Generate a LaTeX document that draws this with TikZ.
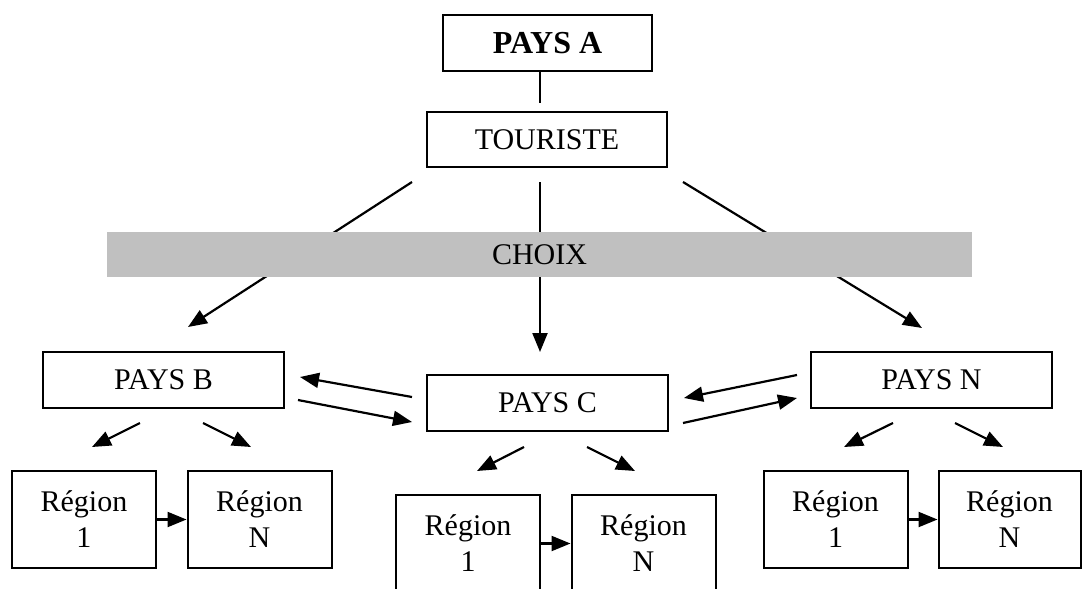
\documentclass[tikz,border=0pt]{standalone}
\usepackage{fontspec}
\setmainfont{Liberation Serif}
\usetikzlibrary{arrows.meta}

\begin{document}
\begin{tikzpicture}[x=0.5pt,y=-0.5pt,
        box/.style={draw=black,line width=1pt,inner sep=0pt,align=center,
            font=\fontsize{15}{18}\selectfont},
        pays/.style={box,minimum width=120.5pt,minimum height=28pt},
        region/.style={box,minimum width=72pt,minimum height=48.5pt},
        fleche/.style={line width=1.1pt,-{Triangle[length=9.5pt,width=7.5pt]}},
        trait/.style={line width=1.1pt}]
    \useasboundingbox (0,0) rectangle (1082,589);
    % top
    \node[box,minimum width=104.5pt,minimum height=28pt,
        font=\fontsize{16}{18}\selectfont\bfseries] (paysa) at (547.5,43) {PAYS A};
    \node[box,minimum width=120pt,minimum height=27.5pt] (tour) at (547,139.5) {TOURISTE};
    \coordinate (a1) at (540,71);
    \coordinate (a2) at (540,103);
    \draw[trait] (a1) -- (a2);
    % choix
    \coordinate (t1) at (412,182);
    \coordinate (t2) at (540,182);
    \coordinate (t3) at (683,182);
    \coordinate (b1) at (188,327);
    \coordinate (c1) at (540,352);
    \coordinate (n1) at (922,328);
    \draw[fleche] (t1) -- (b1);
    \draw[fleche] (t2) -- (c1);
    \draw[fleche] (t3) -- (n1);
    \node[fill={rgb,255:red,192;green,192;blue,192},minimum width=432.5pt,minimum height=22.5pt,
        inner sep=0pt,font=\fontsize{15}{18}\selectfont] (choix) at (539.5,254.5) {CHOIX};
    % pays
    \node[pays] (paysb) at (163.5,380) {PAYS B};
    \node[pays] (paysc) at (547.5,403) {PAYS C};
    \node[pays] (paysn) at (931.5,380) {PAYS N};
    \coordinate (bc1) at (412,397);
    \coordinate (bc2) at (300,377);
    \coordinate (bc3) at (298,400);
    \coordinate (bc4) at (412,422);
    \coordinate (cn1) at (797,375);
    \coordinate (cn2) at (684,398);
    \coordinate (cn3) at (683,423);
    \coordinate (cn4) at (797,398);
    \draw[fleche] (bc1) -- (bc2);
    \draw[fleche] (bc3) -- (bc4);
    \draw[fleche] (cn1) -- (cn2);
    \draw[fleche] (cn3) -- (cn4);
    % regions
    \node[region] (r1b) at (84,519.5) {Région\\1};
    \node[region] (rnb) at (259.5,519.5) {Région\\N};
    \node[region] (r1c) at (468,543.5) {Région\\1};
    \node[region] (rnc) at (643.5,543.5) {Région\\N};
    \node[region] (r1n) at (835.5,519.5) {Région\\1};
    \node[region,minimum width=71pt] (rnn) at (1009.5,519.5) {Région\\N};
    \draw[fleche] (r1b) -- (rnb);
    \draw[fleche] (r1c) -- (rnc);
    \draw[fleche] (r1n) -- (rnn);
    \coordinate (pb1) at (140,423);
    \coordinate (pb2) at (92,447);
    \coordinate (pb3) at (203,423);
    \coordinate (pb4) at (251,447);
    \coordinate (pc1) at (524,447);
    \coordinate (pc2) at (477,471);
    \coordinate (pc3) at (587,447);
    \coordinate (pc4) at (635,471);
    \coordinate (pn1) at (893,423);
    \coordinate (pn2) at (844,447);
    \coordinate (pn3) at (955,423);
    \coordinate (pn4) at (1003,447);
    \draw[fleche] (pb1) -- (pb2);
    \draw[fleche] (pb3) -- (pb4);
    \draw[fleche] (pc1) -- (pc2);
    \draw[fleche] (pc3) -- (pc4);
    \draw[fleche] (pn1) -- (pn2);
    \draw[fleche] (pn3) -- (pn4);
\end{tikzpicture}
\end{document}
